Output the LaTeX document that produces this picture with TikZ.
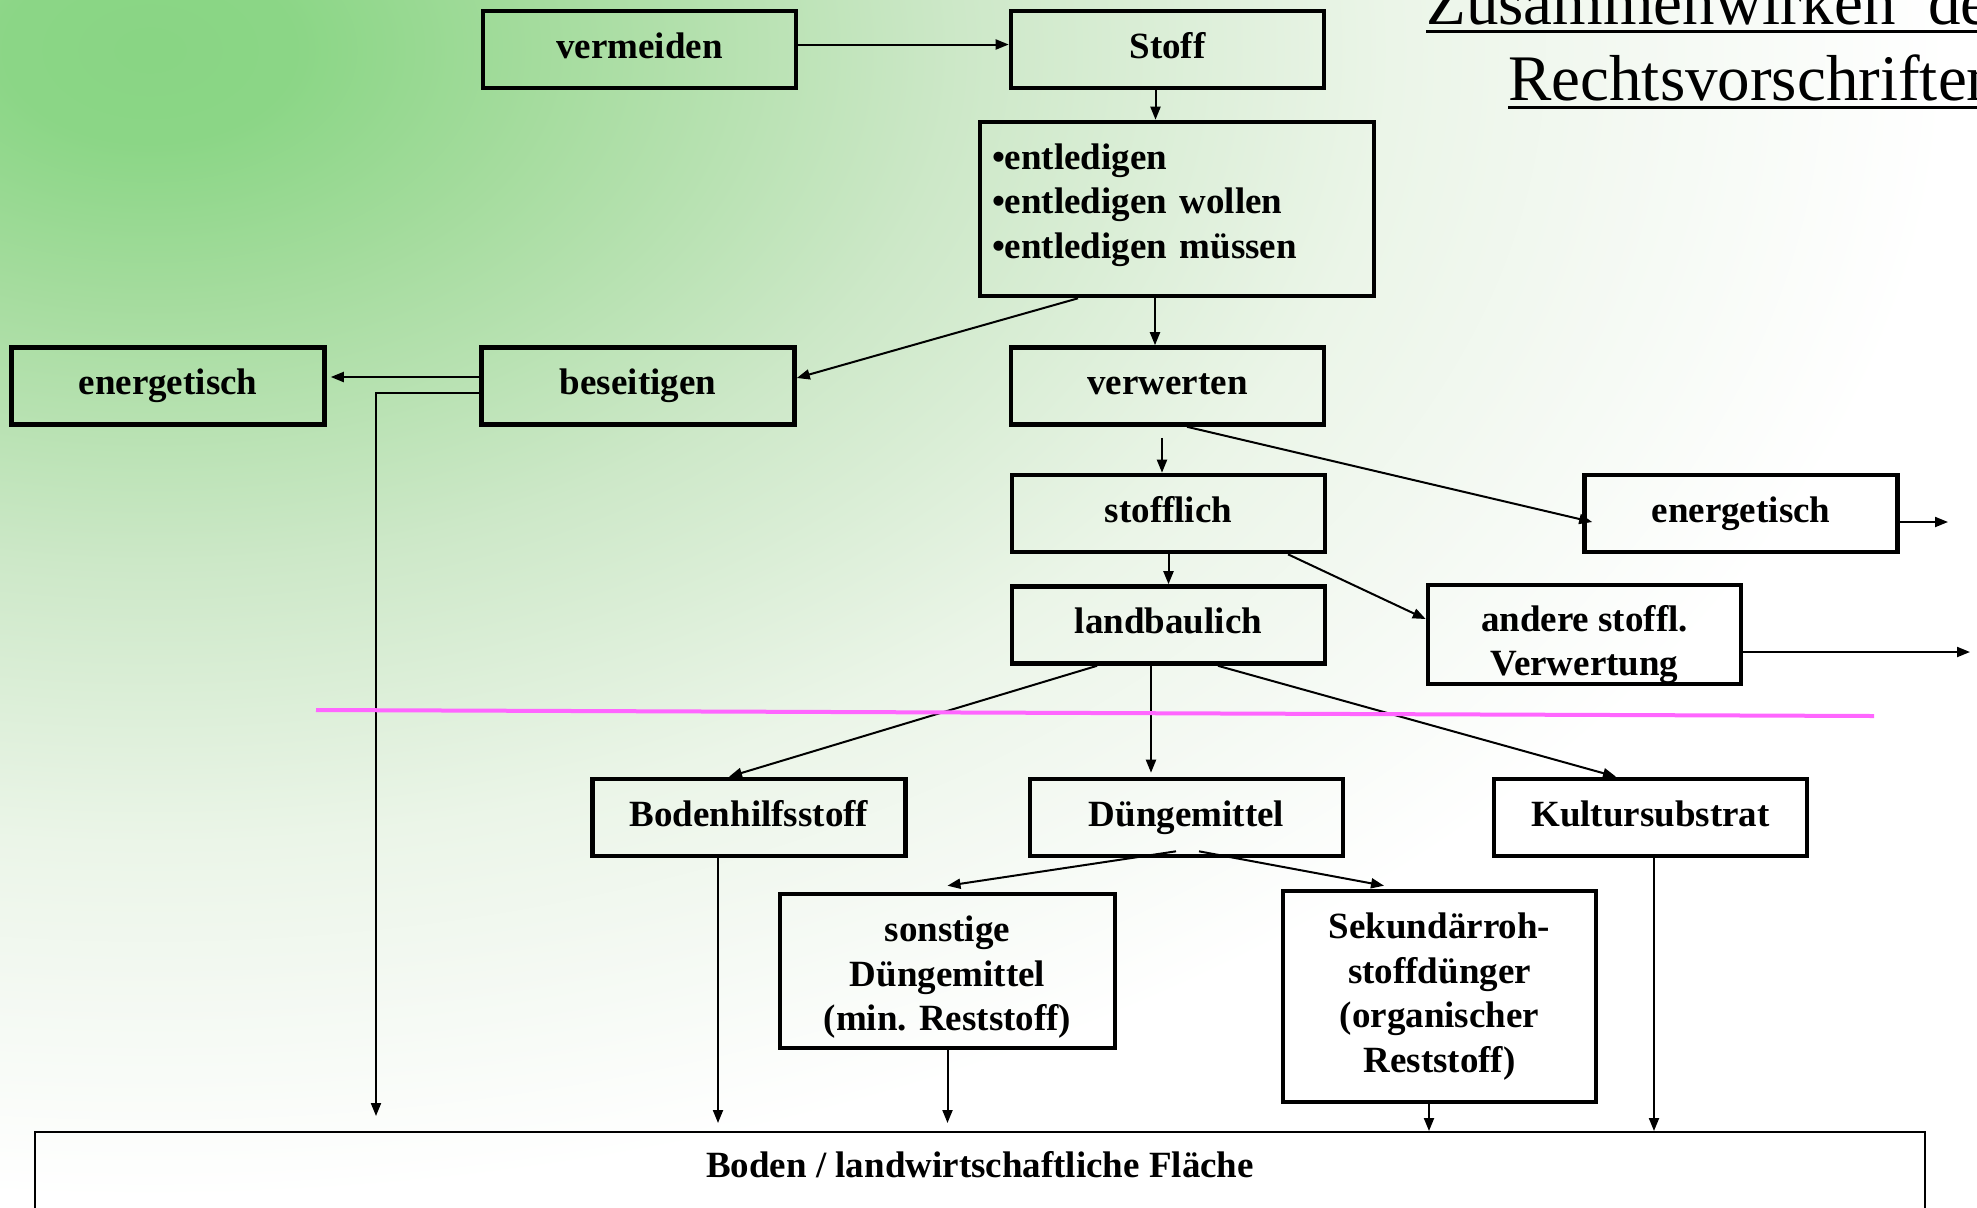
\documentclass[tikz,border=0pt]{standalone}
\usepackage{fontspec}
\setmainfont{Liberation Serif}
\usetikzlibrary{arrows.meta}

\definecolor{bg0}{RGB}{137,213,132}
\definecolor{bg1}{RGB}{139,214,134}
\definecolor{bg2}{RGB}{165,220,158}
\definecolor{bg3}{RGB}{205,232,200}
\definecolor{bg4}{RGB}{235,245,232}
\definecolor{bg5}{RGB}{246,250,245}
\definecolor{trennlinie}{RGB}{255,102,255}
\pgfdeclareradialshading{hintergrund}{\pgfpoint{0bp}{0bp}}{color(0bp)=(bg0); color(2bp)=(bg1); color(5.5bp)=(bg2); color(11.25bp)=(bg3); color(17.25bp)=(bg4); color(21.5bp)=(bg5); color(25bp)=(white); color(50bp)=(white)}

\begin{document}
\begin{tikzpicture}[x=0.5pt,y=-0.5pt,
    kasten/.style={draw=black,line width=2.3pt,minimum width=156.5pt,minimum height=38.5pt,
      inner sep=0pt,align=center,font=\fontsize{18.5pt}{22.3pt}\selectfont\bfseries},
    zeile/.style={kasten,text height=12.6pt,text depth=4pt},
    pfeil/.style={line width=1pt,-{Triangle[length=6.5pt,width=5pt]}}]
    \useasboundingbox (0,0) rectangle (1977,1207);
    \begin{scope}
    \clip (0,0) rectangle (1977,1207);
    \fill[white] (0,0) rectangle (1977,1207);
    \shade[shading=hintergrund] (150,50) ellipse [x radius=900pt,y radius=575pt];
    \end{scope}

    \node[zeile] (verm) at (639.5,49.5) {vermeiden};
    \node[zeile] (stoff) at (1167.5,49.5) {Stoff};
    \node[kasten,minimum width=197pt,minimum height=87pt,text width=185pt,align=left] (entl) at (1177,209)
      {•entledigen\\•entledigen wollen\\•entledigen müssen\rule[-8pt]{0pt}{8pt}};
    \node[zeile] (enL) at (168,386) {energetisch};
    \node[zeile] (besei) at (638,386) {beseitigen};
    \node[zeile] (verw) at (1167.5,386) {verwerten};
    \node[zeile] (stoffl) at (1168.5,513.5) {stofflich};
    \node[zeile] (enR) at (1741,513.5) {energetisch};
    \node[zeile] (landb) at (1168.5,625) {landbaulich};
    \node[kasten,minimum height=48.5pt] (andere) at (1584.5,634.5) {\rule{0pt}{23pt}andere stoffl.\\Verwertung};
    \node[zeile] (bh) at (749,817.5) {Bodenhilfsstoff};
    \node[zeile] (dm) at (1186.5,817.5) {Düngemittel};
    \node[zeile] (ks) at (1650.5,817.5) {Kultursubstrat};
    \node[kasten,minimum width=167.5pt,minimum height=77pt] (sonst) at (947.5,971)
      {\rule{0pt}{19pt}sonstige\\Düngemittel\\(min. Reststoff)};
    \node[kasten,minimum height=105.5pt] (sek) at (1439.5,996.5)
      {Sekundärroh-\\stoffdünger\\(organischer\\Reststoff)};
    \node[kasten,line width=1pt,minimum width=945pt,anchor=north,text height=22.5pt,text depth=40pt] (boden)
      at (980,1131) {Boden / landwirtschaftliche Fläche};

    % oben
    \draw[pfeil] ([yshift=2.5pt]verm.east) -- ([yshift=2.5pt]stoff.west);
    \draw[pfeil] ([xshift=-6pt]stoff.south) -- ([xshift=-6pt]stoff.south |- entl.north);
    \draw[pfeil] ([xshift=-11pt]entl.south) -- ([xshift=-11pt]entl.south |- verw.north);
    \draw[pfeil] ([xshift=-49.5pt]entl.south) -- ([yshift=4pt]besei.east);
    % beseitigen
    \draw[pfeil,shorten >=2pt] ([yshift=4.5pt]besei.west) -- ([yshift=4.5pt]enL.east);
    \coordinate (beseiEnde) at (376,1116);
    \draw[pfeil] ([yshift=-3.5pt]besei.west) -| (beseiEnde);
    % verwerten
    \draw[pfeil,shorten <=5.5pt] ([xshift=-2.75pt]verw.south) -- ([xshift=-2.75pt]verw.south |- stoffl.north);
    \draw[pfeil] ([xshift=9.75pt]verw.south) -- ([xshift=5pt,yshift=-4.25pt]enR.west);
    \coordinate (ausEn) at (1948,522);
    \draw[pfeil] (ausEn -| enR.east) -- (ausEn);
    \draw[pfeil] (stoffl) -- (landb);
    \draw[pfeil] ([xshift=59.75pt]stoffl.south) -- ([yshift=7.75pt]andere.west);
    \coordinate (ausAndere) at (1970,652);
    \draw[pfeil] (ausAndere -| andere.east) -- (ausAndere);
    % landbaulich
    \draw[pfeil] ([xshift=-35.75pt]landb.south) -- ([xshift=-10pt]bh.north);
    \draw[pfeil,shorten >=2pt] ([xshift=-8.75pt]landb.south) -- ([xshift=-8.75pt]landb.south |- dm.north);
    \draw[pfeil] ([xshift=24.75pt]landb.south) -- ([xshift=-17.25pt]ks.north);
    \draw[pfeil] ([xshift=-5.25pt,yshift=3.5pt]dm.south) -- ([yshift=3pt]sonst.north);
    \draw[pfeil] ([xshift=6.25pt,yshift=3.5pt]dm.south) -- ([xshift=-27.75pt,yshift=1.5pt]sek.north);
    % Boden
    \draw[pfeil,shorten >=4pt] ([xshift=-15.5pt]bh.south) -- ([xshift=-15.5pt]bh.south |- boden.north);
    \draw[pfeil,shorten >=4pt] (sonst.south) -- (sonst.south |- boden.north);
    \draw[pfeil] ([xshift=-5.25pt,yshift=2pt]sek.south) -- ([xshift=-5.25pt]sek.south |- boden.north);
    \draw[pfeil] ([xshift=1.75pt]ks.south) -- ([xshift=1.75pt]ks.south |- boden.north);

    \draw[trennlinie,line width=2pt] (316,710) -- (1874,716);

    % Titel
    \begin{scope}
    \clip (0,0) rectangle (1977,1207);
    \node[anchor=base west,inner sep=0pt,font=\fontsize{32.5pt}{38pt}\selectfont] (titel1) at (1426,24) {Zusammenwirken\ \ der};
    \node[anchor=base west,inner sep=0pt,font=\fontsize{32.5pt}{38pt}\selectfont] (titel2) at (1508,100) {Rechtsvorschriften};
    \draw[line width=1.5pt] ([yshift=-3.5pt]titel1.base west) -- ([yshift=-3.5pt]titel1.base east);
    \draw[line width=1.5pt] ([yshift=-3.5pt]titel2.base west) -- ([yshift=-3.5pt]titel2.base east);
    \end{scope}
\end{tikzpicture}
\end{document}
